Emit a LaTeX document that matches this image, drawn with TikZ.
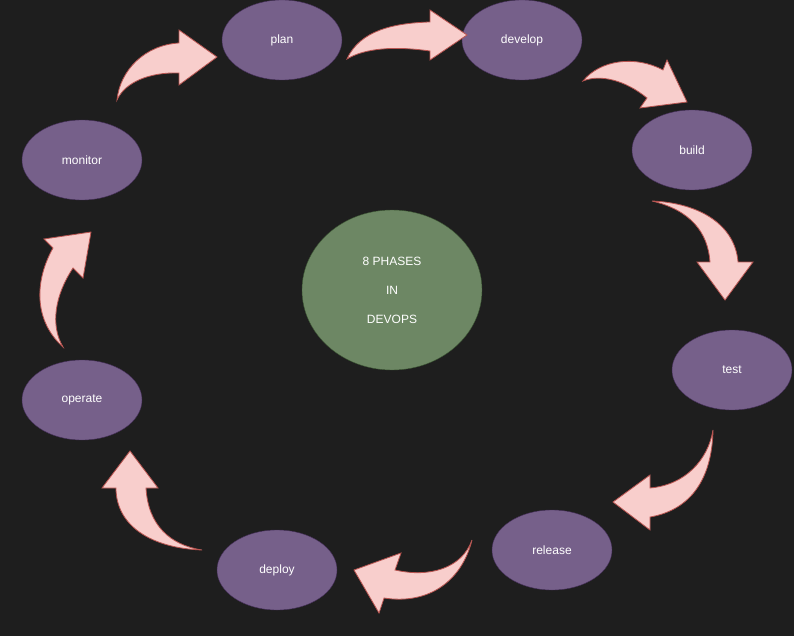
\documentclass[tikz,border=0pt]{standalone}
\usepackage{fontspec}
\setmainfont{Liberation Sans}
\usepackage{xcolor}
\usepackage{tikz}
\usetikzlibrary{shapes.geometric}
\definecolor{bgdark}{HTML}{1E1E1E}
\definecolor{phasefill}{HTML}{76608A}
\definecolor{phaseline}{HTML}{432D57}
\definecolor{hubfill}{HTML}{6D8764}
\definecolor{hubline}{HTML}{3A5431}
\definecolor{arrowfill}{HTML}{F8CECC}
\definecolor{arrowline}{HTML}{B85450}
\tikzstyle{phase}=[ellipse,draw=phaseline,fill=phasefill,minimum width=120pt,minimum height=80pt,inner sep=0pt,text=white,font=\fontsize{12}{14}\selectfont]
\tikzstyle{hub}=[ellipse,draw=hubline,fill=hubfill,minimum width=180pt,minimum height=160pt,inner sep=0pt,text=white,align=center,font=\fontsize{12}{14}\selectfont]
\tikzstyle{bentarrow}=[fill=arrowfill,draw=arrowline,line width=0.8pt,line join=miter]

\begin{document}
\begin{tikzpicture}[x=1pt,y=-1pt]
        \fill[bgdark] (0,0) rectangle (794,636);
        \useasboundingbox (0,0) rectangle (794,636);

        \node at (392,290) [hub]   (hub)     {8 PHASES\\[15pt]IN\\[15pt]DEVOPS};
        \node at (282,40)  [phase] (plan)    {plan};
        \node at (522,40)  [phase] (develop) {develop};
        \node at (692,150) [phase] (build)   {build};
        \node at (732,370) [phase] (test)    {test};
        \node at (552,550) [phase] (release) {release};
        \node at (277,570) [phase] (deploy)  {deploy};
        \node at (82,400)  [phase] (operate) {operate};
        \node at (82,160)  [phase] (monitor) {monitor};

        % curved arrows, monitor -> plan and round the ring
        \draw [bentarrow] (117,100) .. controls (120,70) and (145,45) .. (179,43)
                -- (179,30) -- (217,57) -- (179,85) -- (179,73)
                .. controls (150,72) and (125,82) .. cycle;
        \draw [bentarrow] (347,59) .. controls (360,30) and (395,23) .. (430,22)
                -- (430,10) -- (467,35) -- (430,60) -- (430,51)
                .. controls (395,46) and (365,48) .. cycle;
        \draw [bentarrow] (583,81) .. controls (600,60) and (635,55) .. (663,70)
                -- (667,60) -- (687,102) -- (640,108) -- (647,98)
                .. controls (625,80) and (600,74) .. cycle;
        \draw [bentarrow] (652,201) .. controls (700,203) and (735,225) .. (738,262)
                -- (753,262) -- (725,300) -- (697,262) -- (710,262)
                .. controls (708,232) and (690,210) .. cycle;
        \draw [bentarrow] (713,430) .. controls (712,480) and (690,510) .. (650,517)
                -- (650,530) -- (613,502) -- (650,475) -- (650,488)
                .. controls (685,485) and (708,460) .. cycle;
        \draw [bentarrow] (472,540) .. controls (462,568) and (430,578) .. (395,570)
                -- (401,553) -- (354,570) -- (379,613) -- (384,598)
                .. controls (430,605) and (462,580) .. cycle;
        \draw [bentarrow] (202,550) .. controls (150,548) and (116,525) .. (116,488)
                -- (102,488) -- (130,451) -- (158,488) -- (146,488)
                .. controls (148,525) and (170,545) .. cycle;
        \draw [bentarrow] (63,347) .. controls (33,320) and (35,280) .. (53,248)
                -- (44,239) -- (91,232) -- (83,278) -- (73,268)
                .. controls (55,295) and (50,325) .. cycle;
      \end{tikzpicture}
\end{document}
